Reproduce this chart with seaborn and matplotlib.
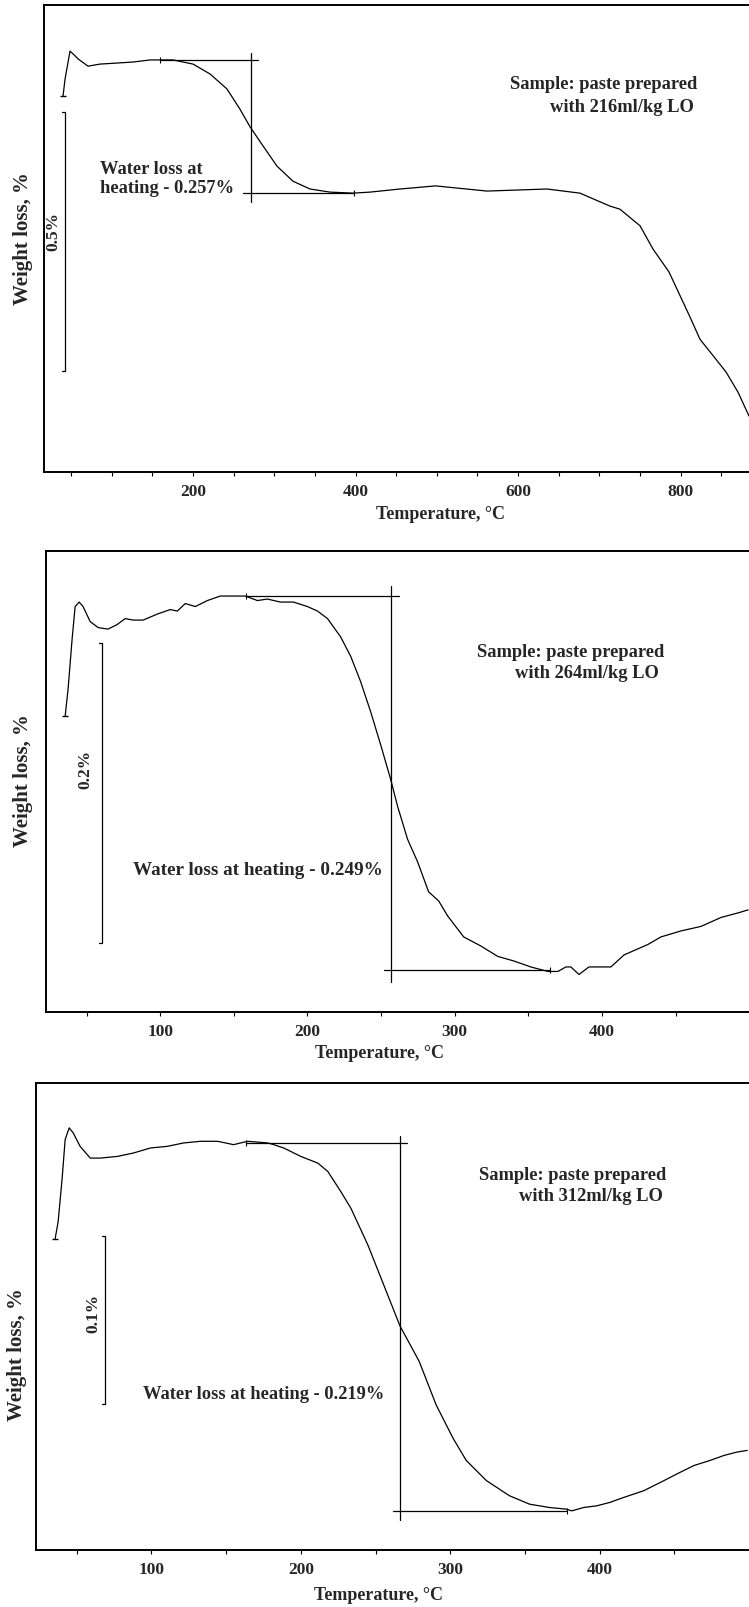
import numpy as np
import pandas as pd
import matplotlib
matplotlib.use('Agg')
import matplotlib.pyplot as plt
from matplotlib.ticker import MultipleLocator
import seaborn as sns

sns.set_theme(style='white')
plt.rcParams['font.family'] = ['Liberation Serif', 'DejaVu Serif']
plt.rcParams['font.weight'] = 'bold'

# weight change, % (0 = plateau before the water loss step)
t_216 = [40.0, 42.5, 48.6, 53.5, 58.5, 70.8, 85.5, 106.5, 126.2, 147.1, 159.4, 175.4,
         200.0, 220.9, 241.8, 257.8, 270.2, 286.2, 303.4, 323.1, 344.0, 368.6, 396.9,
         417.8, 454.8, 498.5, 561.8, 635.7, 676.3, 713.2, 725.5, 750.2, 766.2, 785.8,
         811.7, 824.0, 838.8, 856.0, 870.8, 884.3]
w_216 = [-0.070, -0.037, 0.017, 0.010, 0.002, -0.012, -0.008, -0.006, -0.004, 0.0, 0.0, 0.0,
         -0.008, -0.027, -0.056, -0.095, -0.129, -0.166, -0.205, -0.234, -0.249, -0.255, -0.257,
         -0.255, -0.249, -0.243, -0.253, -0.249, -0.257, -0.282, -0.288, -0.320, -0.365, -0.409,
         -0.496, -0.539, -0.568, -0.602, -0.641, -0.687]

t_264 = [35.4, 37.4, 40.1, 42.2, 44.9, 47.6, 52.4, 57.8, 64.6, 70.7, 76.2, 81.6, 88.4, 98.0,
         106.8, 111.6, 117.0, 123.8, 132.0, 140.8, 149.7, 157.8, 166.0, 172.8, 181.6, 190.5,
         200.0, 206.8, 213.6, 222.4, 229.3, 236.1, 242.9, 249.7, 256.5, 261.2, 268.0, 274.8,
         282.3, 289.1, 295.2, 306.1, 317.7, 329.3, 340.1, 351.7, 363.3, 370.1, 375.5, 378.9,
         384.4, 391.2, 406.1, 415.0, 431.3, 440.1, 453.7, 467.3, 481.0, 492.5, 499.3]
w_264 = [-0.080, -0.062, -0.029, -0.007, -0.004, -0.007, -0.017, -0.021, -0.022, -0.019,
         -0.015, -0.016, -0.016, -0.012, -0.009, -0.010, -0.005, -0.007, -0.003, 0.0, 0.0, 0.0,
         -0.003, -0.002, -0.004, -0.004, -0.007, -0.010, -0.015, -0.027, -0.040, -0.057,
         -0.077, -0.099, -0.122, -0.140, -0.162, -0.177, -0.197, -0.203, -0.213, -0.227,
         -0.233, -0.240, -0.243, -0.247, -0.250, -0.250, -0.247, -0.247, -0.252, -0.247,
         -0.247, -0.239, -0.232, -0.227, -0.223, -0.220, -0.214, -0.211, -0.209]

t_312 = [35.6, 37.6, 40.3, 42.3, 45.0, 47.7, 52.3, 59.1, 65.8, 77.2, 87.9, 99.3, 110.7, 121.5,
         132.9, 144.3, 155.0, 164.4, 177.9, 181.9, 188.6, 200.0, 211.4, 218.1, 226.8, 233.6,
         245.0, 255.7, 266.4, 279.2, 290.6, 302.0, 310.7, 324.2, 339.6, 353.0, 366.4, 377.9,
         381.2, 389.3, 398.0, 406.7, 416.1, 429.5, 443.0, 451.7, 463.1, 473.8, 483.2, 491.9,
         498.7]
w_312 = [-0.057, -0.047, -0.021, 0.002, 0.009, 0.006, -0.002, -0.009, -0.009, -0.008, -0.006,
         -0.003, -0.002, 0.0, 0.001, 0.001, -0.001, 0.001, 0.0, -0.001, -0.003, -0.008, -0.012,
         -0.017, -0.029, -0.039, -0.061, -0.085, -0.109, -0.130, -0.156, -0.176, -0.189,
         -0.201, -0.210, -0.215, -0.217, -0.218, -0.219, -0.217, -0.216, -0.214, -0.211,
         -0.207, -0.201, -0.197, -0.192, -0.189, -0.186, -0.184, -0.183]

samples = ['216', '264', '312']
water_loss = [0.257, 0.249, 0.219]
scale_bar = [0.5, 0.2, 0.1]
curves = [(t_216, w_216), (t_264, w_264), (t_312, w_312)]

# construction lines of the step (temperatures)
top_start = [159, 158, 163]
top_end = [280, 262, 271]
step_t = [271, 256.5, 266.4]
bottom_start = [261.5, 251.7, 261.7]
bottom_end = [398, 365, 378]

# panel layout in pixels (left, top, right, bottom)
boxes = [(44, 6, 749, 473), (46, 552, 749, 1013), (36, 1084, 749, 1551)]
xlims = [(16.6, 884.3), (22.4, 499.9), (22.8, 499.9)]
ylims = [(-0.795, 0.106), (-0.277, 0.030), (-0.2423, 0.0357)]
major = [200, 100, 100]

bar_t = [43, 60.5, 69]
bar_top = [-0.10, -0.031, -0.0554]
bar_hook = [3.7, 2.0, 2.0]
bar_lab = [(27.7, -0.33), (49, -0.115), (61, -0.1006)]
sample_pos = [((590, -0.046), (639, -0.089)),
              ((315, -0.0367), (340.8, -0.0507)),
              ((319.5, -0.0185), (346.3, -0.0315))]
water_pos = [(85.5, -0.227), (81.6, -0.182), (94.6, -0.149)]
water_size = [13.3, 13.8, 13.3]
ylab_pos = [(-0.030, 0.503), (-0.033, 0.505), (-0.027, 0.42)]
xlab_pos = [(0.562, -0.088), (0.475, -0.087), (0.481, -0.096)]

W, H = 749, 1608
fig = plt.figure(figsize=(W / 100, H / 100), dpi=100)

for i in range(3):
    l, t, r, b = boxes[i]
    ax = fig.add_axes([l / W, 1 - b / H, (r - l) / W, (b - t) / H])
    df = pd.DataFrame({'T': curves[i][0], 'w': curves[i][1]})
    sns.lineplot(data=df, x='T', y='w', ax=ax, color='black', lw=0.9,
                 estimator=None, sort=False)
    ax.plot(df['T'].iloc[0], df['w'].iloc[0], marker='_', ms=4, color='black', mew=1)

    loss = water_loss[i]
    ext = 0.012 * scale_bar[i] / 0.5 + 0.002
    ax.plot([top_start[i], top_end[i]], [0, 0], color='black', lw=0.9)
    ax.plot([step_t[i], step_t[i]], [ext, -loss - 1.2 * ext], color='black', lw=0.9)
    ax.plot([bottom_start[i], bottom_end[i]], [-loss, -loss], color='black', lw=0.9)
    ax.plot([top_start[i]], [0], marker='|', ms=4, color='black', mew=0.8)
    ax.plot([bottom_end[i]], [-loss], marker='|', ms=4, color='black', mew=0.8)

    # scale bar
    bt, bb = bar_top[i], bar_top[i] - scale_bar[i]
    h = bar_hook[i]
    ax.plot([bar_t[i] - h, bar_t[i], bar_t[i], bar_t[i] - h], [bt, bt, bb, bb],
            color='black', lw=0.9)
    ax.text(bar_lab[i][0], bar_lab[i][1], f'{scale_bar[i]}%', rotation=90,
            ha='center', va='center', fontsize=12.5, fontweight='bold')

    (x1, y1), (x2, y2) = sample_pos[i]
    ax.text(x1, y1, 'Sample: paste prepared', ha='left', va='center',
            fontsize=13.3, fontweight='bold')
    ax.text(x2, y2, f'with {samples[i]}ml/kg LO', ha='left', va='center',
            fontsize=13.3, fontweight='bold')
    if i == 0:
        wtxt = f'Water loss at\nheating - {loss}%'
    else:
        wtxt = f'Water loss at heating - {loss}%'
    ax.text(water_pos[i][0], water_pos[i][1], wtxt, ha='left', va='center',
            fontsize=water_size[i], fontweight='bold', linespacing=1.15)

    ax.set_xlim(*xlims[i])
    ax.set_ylim(*ylims[i])
    ax.xaxis.set_major_locator(MultipleLocator(major[i]))
    ax.xaxis.set_minor_locator(MultipleLocator(50))
    ax.set_yticks([])
    ax.tick_params(axis='x', which='both', direction='out', bottom=True, length=3,
                   width=0.8, color='black', pad=5, labelsize=12.5)
    for lab in ax.get_xticklabels():
        lab.set_fontweight('bold')
    for side in ['left', 'top', 'bottom']:
        ax.spines[side].set_visible(True)
        ax.spines[side].set_color('black')
        ax.spines[side].set_linewidth(1.4)
    ax.spines['right'].set_visible(False)

    ax.set_xlabel('Temperature, °C', fontsize=13, fontweight='bold')
    ax.xaxis.set_label_coords(*xlab_pos[i])
    ax.xaxis.label.set_va('center')
    ax.set_ylabel('Weight loss, %', fontsize=15, fontweight='bold')
    ax.yaxis.set_label_coords(*ylab_pos[i])
    ax.yaxis.label.set_va('center')

fig.savefig('out.png', dpi=100)
